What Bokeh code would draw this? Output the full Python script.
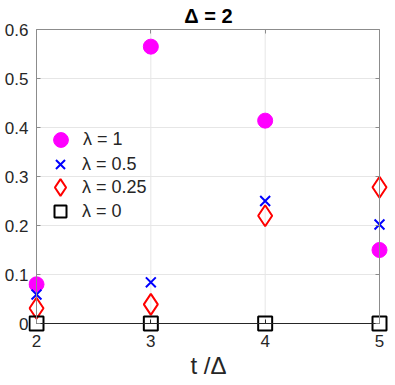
from bokeh.plotting import figure
from bokeh.models import (Range1d, LinearAxis, FixedTicker, Legend, LegendItem,
                          CustomLabelingPolicy)
from bokeh.embed import file_html
from bokeh.resources import INLINE

t_vals = [2, 3, 4, 5]
lam1 = [0.08, 0.565, 0.414, 0.15]
lam05 = [0.059, 0.084, 0.25, 0.202]
lam025 = [0.031, 0.039, 0.22, 0.278]
lam0 = [0.0, 0.0, 0.0, 0.0]
y_ticks = [0, 0.1, 0.2, 0.3, 0.4, 0.5, 0.6]
x_ticks = [2, 3, 4, 5]
labels = ["λ = 1", "λ = 0.5", "λ = 0.25", "λ = 0"]

FONT = "Liberation Sans"
DARK = "#262626"
BOX = "#8c8c8c"

# inner box size in px and the extra room around it so markers on the box are not cut
IW, IH = 343, 294
ML, MR, MB, MT = 8, 9, 9, 1
x0, x1 = x_ticks[0], x_ticks[-1]
y0, y1 = y_ticks[0], y_ticks[-1]
sx = (x1 - x0) / IW
sy = (y1 - y0) / IH

p = figure(output_backend="svg", toolbar_location=None,
           frame_width=IW + ML + MR, frame_height=IH + MB + MT,
           x_range=Range1d(x0 - ML * sx, x1 + MR * sx),
           y_range=Range1d(y0 - MB * sy, y1 + MT * sy),
           x_axis_type=None, y_axis_type=None,
           min_border_left=28, min_border_right=1, min_border_top=28, min_border_bottom=10,
           background_fill_color="white", border_fill_color="white",
           outline_line_color=None)

p.title.text = "Δ = 2"
p.title.align = "center"
p.title.text_font = FONT
p.title.text_font_size = "20px"
p.title.text_font_style = "bold"
p.title.text_color = "black"
p.title.standoff = 3

# grid lines (from the tick lists, limited to the box)
p.segment(x0=x_ticks, y0=[y0] * len(x_ticks), x1=x_ticks, y1=[y1] * len(x_ticks),
          line_color="#e6e6e6", line_width=1)
p.segment(x0=[x0] * len(y_ticks), y0=y_ticks, x1=[x1] * len(y_ticks), y1=y_ticks,
          line_color="#e6e6e6", line_width=1)

hide = CustomLabelingPolicy(code="""
try { return new indices.constructor(indices.size) }
catch (e) { for (const i of [...indices]) indices.unset(i); return indices }
""")

box = dict(major_tick_in=4, major_tick_out=0, minor_tick_in=0, minor_tick_out=0,
           major_label_policy=hide)

# box lines with inward ticks
p.add_layout(LinearAxis(ticker=FixedTicker(ticks=x_ticks), fixed_location=y0, bounds=(x0, x1),
                        axis_line_color=DARK, major_tick_line_color=DARK, **box), "below")
p.add_layout(LinearAxis(ticker=FixedTicker(ticks=y_ticks), fixed_location=x0, bounds=(y0, y1),
                        axis_line_color=BOX, major_tick_line_color=BOX, **box), "left")
p.add_layout(LinearAxis(ticker=FixedTicker(ticks=y_ticks), fixed_location=x1, bounds=(y0, y1),
                        axis_line_color=BOX, major_tick_line_color=BOX, **box), "right")
p.add_layout(LinearAxis(ticker=FixedTicker(ticks=x_ticks), fixed_location=y1, bounds=(x0, x1),
                        axis_line_color=BOX, major_tick_line_color=BOX, **box), "above")

# labelled axes (no lines)
lab = dict(axis_line_color=None, major_tick_in=0, major_tick_out=0, minor_tick_in=0,
           minor_tick_out=0, major_label_text_font=FONT, major_label_text_font_size="17px",
           major_label_text_color=DARK)
p.add_layout(LinearAxis(ticker=FixedTicker(ticks=x_ticks), major_label_standoff=2,
                        axis_label="t /Δ", axis_label_text_font=FONT,
                        axis_label_text_font_size="24px", axis_label_text_font_style="normal",
                        axis_label_text_color=DARK, axis_label_standoff=2, **lab), "below")
p.add_layout(LinearAxis(ticker=FixedTicker(ticks=y_ticks), major_label_standoff=0, **lab), "left")

r1 = p.scatter(t_vals, lam1, marker="circle", size=15, fill_color="#ff00ff", line_color="#ff00ff")
r2 = p.scatter(t_vals, lam05, marker="x", size=14, line_color="#0000ff", line_width=2)
r3 = p.scatter(t_vals, lam025, marker="diamond", size=21,
               fill_color=None, line_color="#ff0000", line_width=2)
r4 = p.scatter(t_vals, lam0, marker="square", size=14, fill_color=None, line_color="black", line_width=2)

# one legend per entry so that entries can sit closer than the glyph box
glyph_box = [37, 32, 42, 30]
for k, (lbl, r, g) in enumerate(zip(labels, [r1, r2, r3, r4], glyph_box)):
    cy = 140 + 23.5 * k           # entry centre, px from top of the picture
    lg = Legend(items=[LegendItem(label=lbl, renderers=[r])],
                location=(round(60 - g / 2 - 28), round(332 - cy - g / 2)),
                border_line_color=None, background_fill_alpha=0,
                label_text_font=FONT, label_text_font_size="18px", label_text_color=DARK,
                glyph_width=g, glyph_height=g, label_height=20,
                padding=0, margin=0, label_standoff=max(0, round(22 - g / 2)))
    p.add_layout(lg, "center")

open("out.html", "w").write(file_html(p, INLINE))
